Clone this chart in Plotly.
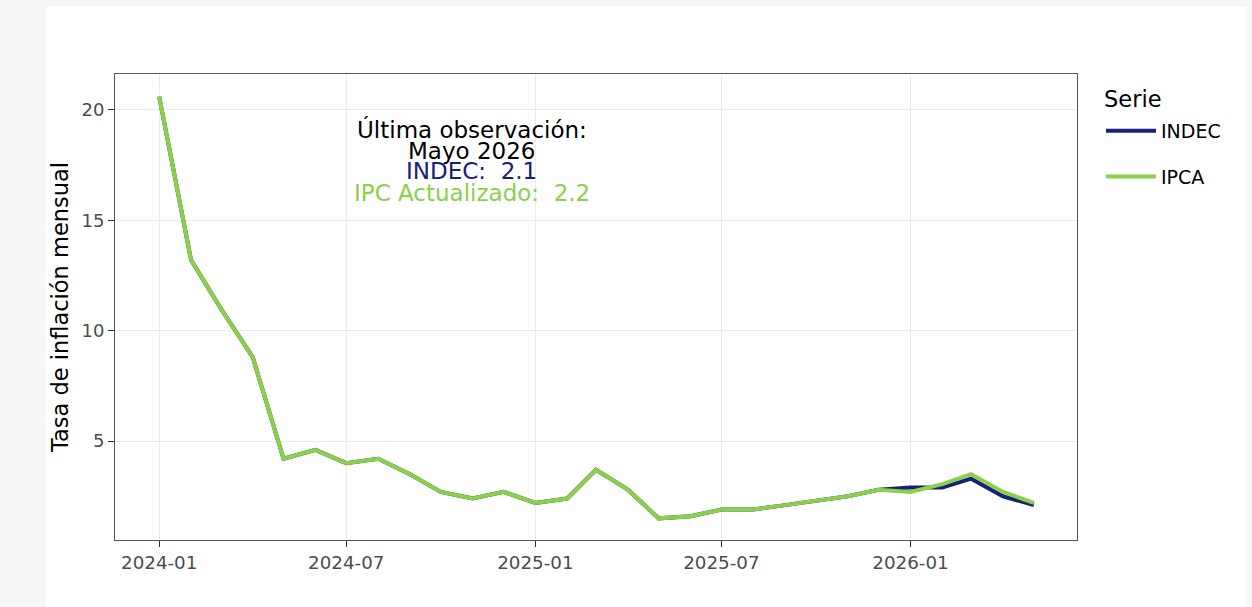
import plotly.graph_objects as go

months = ["2024-01-01", "2024-02-01", "2024-03-01", "2024-04-01", "2024-05-01", "2024-06-01",
          "2024-07-01", "2024-08-01", "2024-09-01", "2024-10-01", "2024-11-01", "2024-12-01",
          "2025-01-01", "2025-02-01", "2025-03-01", "2025-04-01", "2025-05-01", "2025-06-01",
          "2025-07-01", "2025-08-01", "2025-09-01", "2025-10-01", "2025-11-01", "2025-12-01",
          "2026-01-01", "2026-02-01", "2026-03-01", "2026-04-01", "2026-05-01"]
indec = [20.6, 13.2, 11.0, 8.8, 4.2, 4.6, 4.0, 4.2, 3.5, 2.7, 2.4, 2.7,
         2.2, 2.4, 3.7, 2.8, 1.5, 1.6, 1.9, 1.9, 2.1, 2.3, 2.5, 2.8,
         2.9, 2.9, 3.3, 2.5, 2.1]
ipca = [20.6, 13.2, 11.0, 8.8, 4.2, 4.6, 4.0, 4.2, 3.5, 2.7, 2.4, 2.7,
        2.2, 2.4, 3.7, 2.8, 1.5, 1.6, 1.9, 1.9, 2.1, 2.3, 2.5, 2.8,
        2.7, 3.05, 3.5, 2.7, 2.2]
series_names = ["INDEC", "IPCA"]
legend_title = "Serie"
annot_lines = ["Última observación:", "Mayo 2026", "INDEC:  2.1", "IPC Actualizado:  2.2"]
annot_y = [19.1, 18.15, 17.25, 16.25]

NAVY = "#17207A"
GREEN = "#8CCF4A"
FONT = "DejaVu Sans"

fig = go.Figure()
fig.add_trace(go.Scatter(x=months, y=indec, mode="lines", name=series_names[0],
                         line=dict(color=NAVY, width=4), legendgroup="a"))
fig.add_trace(go.Scatter(x=months, y=ipca, mode="lines", name=series_names[1],
                         line=dict(color=GREEN, width=4), legendgroup="b"))

annot_colors = ["black", "black", NAVY, GREEN]
for txt, yy, col in zip(annot_lines, annot_y, annot_colors):
    fig.add_annotation(x="2024-10-31", y=yy, text=txt, showarrow=False,
                       xanchor="center", yanchor="middle", borderpad=0,
                       font=dict(family=FONT, size=23, color=col))

L, R, T, B = 115, 175, 74, 67
W, H = 1252, 607
pw, ph = W - L - R, H - T - B

fig.add_annotation(xref="paper", yref="paper", x=(1102 - L) / pw, y=(H - B - 99) / ph,
                   text=legend_title, showarrow=False, xanchor="left", yanchor="middle",
                   font=dict(family=FONT, size=22.5, color="black"))

fig.add_shape(type="rect", xref="paper", yref="paper", layer="below",
              x0=(46 - L) / pw, x1=(1246 - L) / pw,
              y0=-0.3, y1=(H - B - 6) / ph,
              fillcolor="white", line=dict(width=0))

fig.update_layout(
    width=W, height=H,
    margin=dict(l=L, r=R, t=T, b=B, pad=0),
    paper_bgcolor="#F6F6F6",
    plot_bgcolor="white",
    font=dict(family=FONT, color="black"),
    showlegend=True,
    legend=dict(font=dict(size=19), x=(1101 - L) / pw, y=(H - B - 112) / ph,
                xanchor="left", yanchor="top",
                tracegroupgap=18, itemwidth=50, bgcolor="rgba(0,0,0,0)"),
    xaxis=dict(type="date", range=["2023-11-19", "2026-06-12"],
               tick0="2024-01-01", dtick="M6", tickformat="%Y-%m",
               showgrid=True, gridcolor="#EBEBEB", gridwidth=1,
               ticks="outside", ticklen=6, tickcolor="#333333",
               tickfont=dict(size=18.3, color="#4D4D4D"),
               showline=True, linecolor="#555555", linewidth=1, mirror=True,
               zeroline=False),
    yaxis=dict(range=[0.52, 21.63], tickvals=[5, 10, 15, 20],
               showgrid=True, gridcolor="#EBEBEB", gridwidth=1,
               ticks="outside", ticklen=6, tickcolor="#333333",
               tickfont=dict(size=18, color="#4D4D4D"),
               showline=True, linecolor="#555555", linewidth=1, mirror=True,
               zeroline=False,
               title=dict(text="Tasa de inflación mensual", font=dict(size=22.5), standoff=6)),
)

fig.write_html("out.html")
